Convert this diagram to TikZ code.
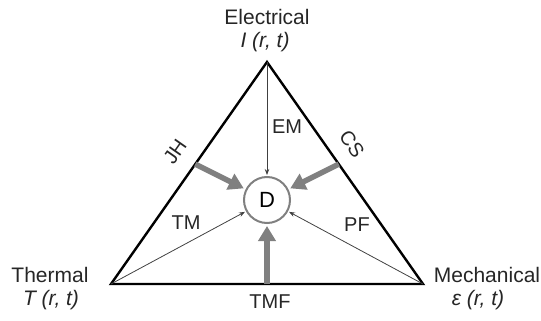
\documentclass[tikz,border=0pt]{standalone}
\usepackage{fontspec}
\setmainfont{Liberation Sans}
\usetikzlibrary{arrows.meta,calc}
\begin{document}
\begin{tikzpicture}[x=1pt,y=-1pt,
  outerlbl/.style={font=\fontsize{21}{24}\selectfont, inner sep=0pt, text=black!85},
  innerlbl/.style={font=\fontsize{20}{23}\selectfont, inner sep=0pt, text=black!85},
  edge/.style={line width=2.4pt, line join=miter},
  bigarrow/.style={draw=black!50, line width=5.5pt, -{Triangle[length=15pt,width=17pt]}, shorten >=2pt},
  thinarrow/.style={draw=black!75, line width=0.8pt, -{Stealth[length=6pt,width=4.5pt]}, shorten >=1pt},
  dnode/.style={circle, draw=black!50, line width=2pt, minimum size=46pt, inner sep=0pt, font=\fontsize{22}{24}\selectfont}]
\useasboundingbox (0,0) rectangle (541,321);
\coordinate (top) at (267,62);
\coordinate (bl) at (111,284);
\coordinate (br) at (423,284);
\draw[edge] (top) -- (bl) -- (br) -- cycle;
\node[dnode] (d) at (267,200) {D};
\coordinate (jh) at ($(bl)!0.54!(top)$);
\coordinate (cs) at ($(br)!0.54!(top)$);
\coordinate (tmf) at ($(bl)!0.5!(br)$);
\draw[bigarrow] (jh) -- (d);
\draw[bigarrow] (cs) -- (d);
\draw[bigarrow] (tmf) -- (d);
\draw[thinarrow] (top) -- (d);
\draw[thinarrow] (bl) -- (d);
\draw[thinarrow] (br) -- (d);
\node[outerlbl] (el) at (267,17) {Electrical};
\node[outerlbl] (ef) at (265,42) {\itshape I (r, t)};
\node[outerlbl] (th) at (50,275) {Thermal};
\node[outerlbl] (tf) at (51,300) {\itshape T (r, t)};
\node[outerlbl] (me) at (487,275) {Mechanical};
\node[outerlbl] (mf) at (478,300) {\itshape ε (r, t)};
\node[innerlbl] (lem) at (287,127) {EM};
\node[innerlbl, rotate=55] (ljh) at (175,152) {JH};
\node[innerlbl, rotate=-55] (lcs) at (352,144) {CS};
\node[innerlbl] (ltm) at (186,223) {TM};
\node[innerlbl] (lpf) at (357,225) {PF};
\node[innerlbl] (ltmf) at (270,302) {TMF};
\end{tikzpicture}
\end{document}
